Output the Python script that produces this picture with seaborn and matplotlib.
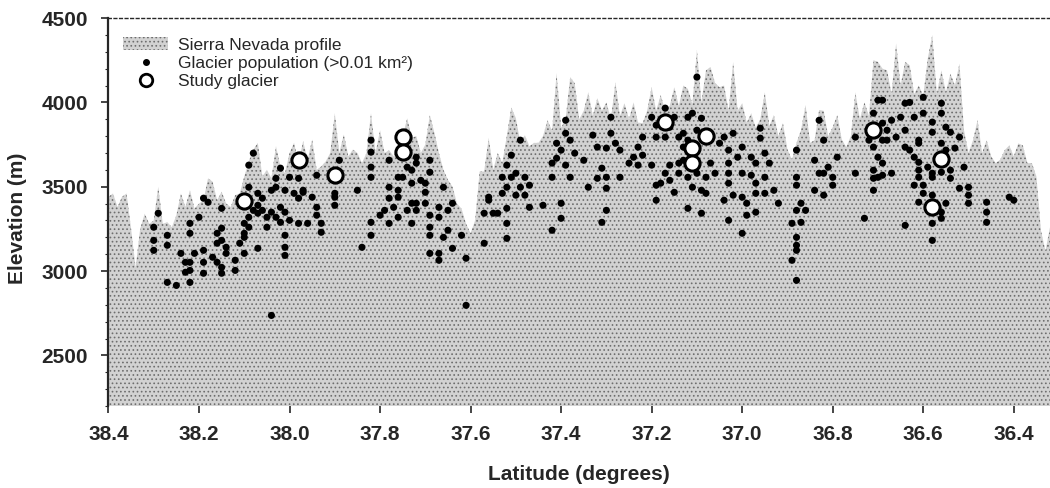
import numpy as np
import pandas as pd
import matplotlib
matplotlib.use("Agg")
import matplotlib.pyplot as plt
import seaborn as sns
from matplotlib.patches import Patch
from matplotlib.lines import Line2D
from matplotlib.ticker import MultipleLocator

# ---- Sierra Nevada crest profile (elevation sampled every 0.01 deg, north to south) ----
profile_start_lat = 38.40
profile_step = 0.01
profile_elev = [
    3440, 3460, 3380, 3440, 3460, 3250, 3020, 3250, 3340, 3280,
    3300, 3500, 3280, 3290, 3260, 3330, 3460, 3380, 3480, 3370,
    3400, 3420, 3550, 3530, 3420, 3470, 3400, 3380, 3450, 3460,
    3560, 3650, 3720, 3760, 3560, 3600, 3550, 3740, 3620, 3580,
    3700, 3760, 3640, 3770, 3660, 3780, 3600, 3620, 3650, 3700,
    3936, 3700, 3810, 3680, 3720, 3700, 3640, 3700, 3936, 3700,
    3835, 3700, 3717, 3680, 3750, 3800, 3906, 3790, 3800, 3700,
    3750, 3925, 3820, 3700, 3600, 3540, 3500, 3400, 3370, 3280,
    3224, 3300, 3590, 3590, 3790, 3600, 3700, 3640, 3800, 3970,
    3906, 3760, 3805, 3740, 3760, 3760, 3800, 3894, 3830, 4174,
    3850, 3900, 4150, 4114, 3900, 3950, 4060, 3920, 4025, 3950,
    4000, 3900, 4120, 3920, 3995, 3900, 4000, 3880, 3877, 3950,
    4090, 3950, 4043, 3950, 3980, 4090, 3980, 4100, 4080, 3990,
    4310, 4000, 4190, 4210, 4115, 4090, 4100, 3950, 4240, 3950,
    3995, 3880, 3935, 3850, 3900, 4060, 3860, 3925, 3800, 3877,
    3720, 3660, 3760, 3835, 3985, 3760, 3776, 3955, 3950, 3800,
    3853, 3925, 3780, 3735, 3800, 4060, 3900, 4000, 3920, 4250,
    4240, 4200, 4190, 4050, 4350, 4100, 4240, 4220, 4050, 4100,
    4040, 4260, 4400, 4050, 4190, 4060, 4170, 4100, 4230, 3835,
    3700, 3776, 3895, 3700, 3776, 3680, 3640, 3660, 3717, 3745,
    3680, 3757, 3745, 3640, 3640, 3560, 3240, 3120, 3260,
]
profile_lat = np.round(profile_start_lat - profile_step * np.arange(len(profile_elev)), 2)

# ---- Glacier population (>0.01 km2): latitude (deg) and elevation (m) ----
glacier_lat = [
    38.29, 38.30, 38.30, 38.30, 38.27, 38.27, 38.27, 38.25, 38.24, 38.23,
    38.22, 38.23, 38.22, 38.21, 38.22, 38.19, 38.19, 38.19, 38.20, 38.19,
    38.18, 38.22, 38.22, 38.17, 38.16, 38.15, 38.15, 38.16, 38.16, 38.15,
    38.15, 38.14, 38.14, 38.15, 38.12, 38.12, 38.11, 38.10, 38.10, 38.10,
    38.09, 38.09, 38.08, 38.07, 38.07, 38.06, 38.05, 38.05, 38.04, 38.03,
    38.02, 38.02, 38.01, 38.00, 38.01, 38.01, 38.01, 38.07, 38.04, 38.09,
    38.09, 38.08, 38.02, 38.03, 38.03, 38.04, 38.01, 38.00, 37.99, 37.98,
    37.97, 37.98, 38.07, 38.06, 38.10,
    37.98, 37.97, 37.95, 37.94, 37.94, 37.94, 37.93, 37.93, 37.96, 37.90,
    37.90, 37.90, 37.89, 37.85, 37.84, 37.82, 37.82, 37.82, 37.82, 37.82,
    37.82, 37.78, 37.76, 37.78, 37.79, 37.80, 37.78, 37.77, 37.76, 37.75,
    37.74, 37.73, 37.73, 37.72, 37.72, 37.71, 37.70, 37.69, 37.69, 37.70,
    37.70, 37.69, 37.69, 37.69, 37.72, 37.72, 37.73, 37.74, 37.76, 37.73,
    37.67, 37.67, 37.66, 37.65, 37.65, 37.64, 37.64, 37.66, 37.67, 37.69,
    37.67, 37.62, 37.61, 37.61, 37.57, 37.57, 37.56, 37.55, 37.56, 37.78,
    37.76,
    37.49, 37.51, 37.52, 37.53, 37.51, 37.50, 37.48, 37.47, 37.49, 37.52,
    37.53, 37.48, 37.50, 37.47, 37.52, 37.54, 37.44, 37.40, 37.40, 37.42,
    37.42, 37.41, 37.39, 37.39, 37.40, 37.38, 37.37, 37.39, 37.41, 37.38,
    37.35, 37.34, 37.33, 37.32, 37.30, 37.31, 37.29, 37.29, 37.28, 37.30,
    37.30, 37.30, 37.32, 37.27, 37.27, 37.25, 37.23, 37.24, 37.22, 37.22,
    37.23, 37.20, 37.19, 37.19, 37.18, 37.17, 37.16, 37.15, 37.16, 37.14,
    37.14, 37.13, 37.13, 37.12, 37.20, 37.17, 37.15, 37.19, 37.16, 37.17,
    37.19, 37.14, 37.12, 37.12, 37.13, 37.52, 37.52, 37.42, 37.31,
    37.10, 37.11, 37.09, 37.10, 37.12, 37.10, 37.12, 37.08, 37.09, 37.11,
    37.07, 37.06, 37.05, 37.04, 37.02, 37.03, 37.00, 37.01, 37.03, 37.03,
    37.03, 37.02, 37.04, 37.00, 37.00, 36.99, 36.99, 37.03, 37.00, 37.09,
    37.08, 36.98, 36.97, 36.96, 36.96, 36.95, 36.94, 36.95, 36.97, 36.97,
    36.95, 36.93, 36.92, 36.97, 36.98, 36.88, 36.88, 36.88, 36.87, 36.88,
    36.86, 36.87, 36.89, 36.88, 36.88, 36.88, 36.89, 36.88, 36.83, 36.82,
    36.84, 36.83, 36.82, 36.84, 36.82, 36.80, 36.81, 36.79, 36.80, 36.75,
    36.75, 36.73, 36.71, 36.71, 36.70, 36.71, 36.70, 36.71, 36.69, 36.71,
    36.72, 36.69, 36.69,
    36.69, 36.64, 36.63, 36.60, 36.56, 36.67, 36.65, 36.68, 36.66, 36.68,
    36.64, 36.60, 36.58, 36.56, 36.58, 36.55, 36.54, 36.52, 36.61, 36.61,
    36.56, 36.55, 36.53, 36.63, 36.64, 36.62, 36.61, 36.61, 36.61, 36.59,
    36.58, 36.58, 36.56, 36.54, 36.54, 36.51, 36.62, 36.60, 36.60, 36.61,
    36.58, 36.55, 36.56, 36.56, 36.58, 36.64, 36.58, 36.52, 36.50, 36.50,
    36.50, 36.46, 36.46, 36.46, 36.41, 36.40, 36.69, 36.67, 36.70, 36.62,
]
glacier_elev = [
    3343, 3260, 3182, 3123, 3212, 3153, 2933, 2915, 3105, 3052,
    3004, 2993, 3052, 3105, 2933, 3123, 3052, 2987, 3319, 3432,
    3408, 3283, 3224, 3082, 3052, 3022, 2987, 3165, 3224, 3182,
    3254, 3141, 3105, 3372, 3004, 3064, 3165, 3224, 3105, 3283,
    3260, 3319, 3360, 3343, 3390, 3360, 3260, 3319, 3349, 3319,
    3289, 3378, 3349, 3301, 3212, 3141, 3093, 3135, 2737, 3497,
    3628, 3699, 3610, 3550, 3497, 3479, 3479, 3556, 3461, 3432,
    3479, 3283, 3461, 3432, 3200,
    3550, 3467, 3438, 3568, 3378, 3331, 3283, 3230, 3283, 3461,
    3438, 3390, 3657, 3479, 3141, 3776, 3705, 3616, 3556, 3289,
    3212, 3497, 3479, 3432, 3360, 3331, 3283, 3378, 3438, 3556,
    3616, 3521, 3598, 3675, 3640, 3538, 3467, 3657, 3586, 3521,
    3402, 3331, 3260, 3212, 3402, 3360, 3402, 3360, 3319, 3283,
    3378, 3319, 3497, 3360, 3242, 3402, 3135, 3200, 3105, 3105,
    3064, 3212, 3076, 2797, 3165, 3343, 3420, 3343, 3438, 3657,
    3556,
    3776, 3687, 3628, 3556, 3556, 3580, 3556, 3509, 3497, 3497,
    3461, 3450, 3450, 3378, 3372, 3343, 3390, 3402, 3313, 3556,
    3640, 3758, 3894, 3817, 3717, 3776, 3699, 3628, 3669, 3556,
    3657, 3497, 3806, 3735, 3729, 3610, 3912, 3817, 3758, 3556,
    3491, 3360, 3550, 3556, 3717, 3640, 3735, 3675, 3687, 3794,
    3628, 3628, 3509, 3420, 3521, 3580, 3628, 3467, 3538, 3640,
    3580, 3817, 3735, 3372, 3912, 3966, 3912, 3865, 3853, 3794,
    3794, 3794, 3912, 3717, 3657, 3283, 3194, 3242, 3289,
    4150, 3936, 3906, 3835, 3776, 3580, 3556, 3556, 3479, 3497,
    3640, 3580, 3758, 3794, 3817, 3717, 3735, 3675, 3640, 3580,
    3521, 3450, 3420, 3580, 3438, 3402, 3331, 3301, 3224, 3343,
    3461, 3675, 3640, 3847, 3788, 3699, 3640, 3556, 3521, 3461,
    3461, 3479, 3402, 3349, 3568, 3717, 3556, 3509, 3402, 3360,
    3360, 3289, 3283, 3200, 3153, 3123, 3064, 2945, 3894, 3776,
    3657, 3580, 3580, 3479, 3450, 3556, 3616, 3675, 3509, 3580,
    3794, 3313, 3479, 3936, 4013, 3735, 3675, 3598, 3568, 3550,
    3776, 3776, 3877,
    4013, 3995, 4000, 4030, 3995, 3894, 3912, 3835, 3794, 3776,
    3835, 3936, 3883, 3936, 3823, 3853, 3823, 3794, 3758, 3776,
    3758, 3717, 3729, 3717, 3735, 3675, 3645, 3598, 3556, 3616,
    3556, 3580, 3586, 3598, 3550, 3616, 3509, 3509, 3461, 3408,
    3450, 3402, 3349, 3313, 3283, 3271, 3182, 3491, 3497, 3450,
    3402, 3408, 3349, 3289, 3438, 3420, 3640, 3580, 3556, 3912,
]

# ---- Study glaciers ----
study_lat = [38.10, 37.98, 37.90, 37.75, 37.75, 37.17, 37.11, 37.08, 37.11, 36.71, 36.56, 36.58]
study_elev = [3414, 3657, 3568, 3794, 3705, 3883, 3728, 3800, 3639, 3835, 3663, 3378]

# ---- Axis ticks ----
x_ticks = [38.4, 38.2, 38.0, 37.8, 37.6, 37.4, 37.2, 37.0, 36.8, 36.6, 36.4]
x_tick_labels = ["38.4", "38.2", "38.0", "37.8", "37.6", "37.4", "37.2", "37.0", "36.8", "36.6", "36.4"]
y_ticks = [2500, 3000, 3500, 4000, 4500]
y_tick_labels = ["2500", "3000", "3500", "4000", "4500"]

glaciers = pd.DataFrame({"lat": glacier_lat, "elev": glacier_elev})
study = pd.DataFrame({"lat": study_lat, "elev": study_elev})

sns.set_style("ticks")
plt.rcParams["font.family"] = ["Liberation Sans", "DejaVu Sans"]
plt.rcParams["hatch.linewidth"] = 0.7
plt.rcParams["hatch.color"] = "#6e6e6e"

fig = plt.figure(figsize=(10.5, 4.88), dpi=100)
ax = fig.add_axes([0.1033, 0.168, 0.8967, 0.795])

profile_face = "#d2d2d2"
ax.fill_between(profile_lat, 2200, profile_elev, facecolor=profile_face,
                edgecolor="#6e6e6e", hatch="....", linewidth=0, zorder=1)

sns.scatterplot(data=glaciers, x="lat", y="elev", ax=ax, s=26, color="black",
                edgecolor="none", zorder=3, legend=False)
sns.scatterplot(data=study, x="lat", y="elev", ax=ax, s=120, color="white",
                edgecolor="black", linewidth=2.2, zorder=4, legend=False)

ax.set_xlim(38.4, 36.32)
ax.set_ylim(2200, 4500)

ax.set_xticks(x_ticks, labels=x_tick_labels, fontweight="bold", fontsize=15)
ax.set_yticks(y_ticks, labels=y_tick_labels, fontweight="bold", fontsize=15)
ax.yaxis.set_minor_locator(MultipleLocator(100))
ax.tick_params(axis="x", which="major", direction="out", length=5, width=1.2, pad=9)
ax.tick_params(axis="y", which="major", direction="out", length=5, width=1.2, pad=10)
ax.tick_params(axis="y", which="minor", direction="out", length=2, width=0.8)

for side in ("right", "bottom"):
    ax.spines[side].set_visible(False)
ax.spines["left"].set_linewidth(1.6)
ax.spines["top"].set_linewidth(1.0)
ax.spines["top"].set_linestyle((0, (2, 2)))

ax.set_xlabel("Latitude (degrees)", fontsize=15, fontweight="bold")
ax.xaxis.set_label_coords(0.5, -0.152)
ax.set_ylabel("Elevation (m)", fontsize=15, fontweight="bold")
ax.yaxis.set_label_coords(-0.087, 0.485)

handles = [
    Patch(facecolor=profile_face, edgecolor="#6e6e6e", hatch="....", linewidth=0),
    Line2D([], [], marker="o", linestyle="", color="black", markersize=4),
    Line2D([], [], marker="o", linestyle="", markerfacecolor="white",
           markeredgecolor="black", markeredgewidth=2, markersize=9),
]
labels = ["Sierra Nevada profile", "Glacier population (>0.01 km²)", "Study glacier"]
ax.legend(handles, labels, loc="upper left", bbox_to_anchor=(0.0154, 0.95),
          frameon=False, fontsize=12.5, borderaxespad=0, borderpad=0,
          handlelength=2.6, handletextpad=0.55, labelspacing=0.17)

fig.savefig("out.png", dpi=100)
